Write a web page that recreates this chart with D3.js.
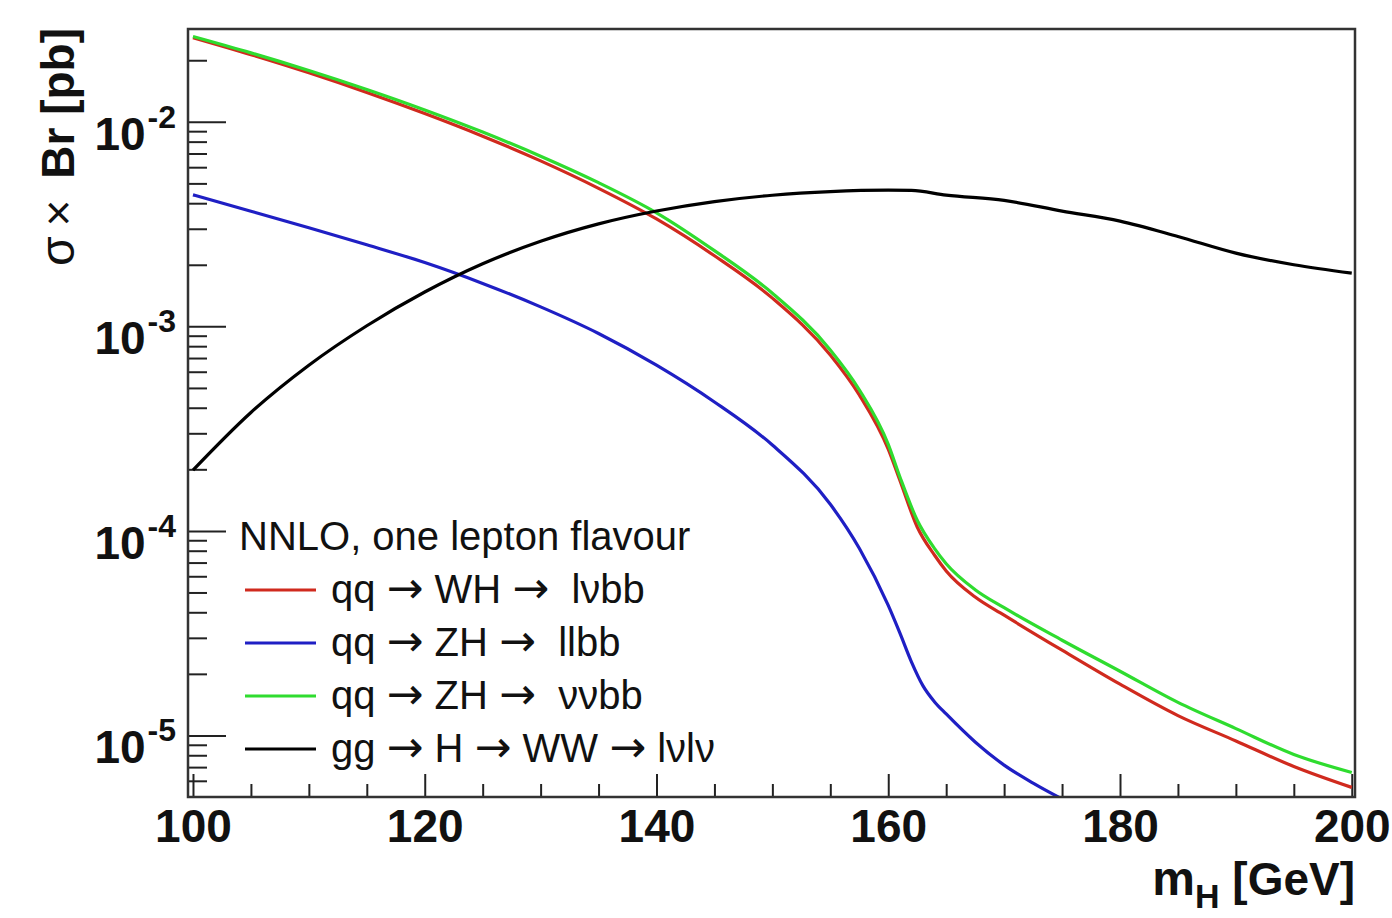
<!DOCTYPE html>
<html><head><meta charset="utf-8">
<script src="https://cdn.jsdelivr.net/npm/d3@7"></script>
<style>
body{margin:0;background:#fff;}
svg{display:block;}
text{font-family:"Liberation Sans",Arial,Helvetica,sans-serif;fill:#111;}
.arr{font-family:"DejaVu Sans",sans-serif;}
</style></head><body>
<svg id="chart" width="1392" height="918"></svg>
<script>
// ---- data ----
const massQQ = [100,105,110,115,120,125,130,135,140,145,150,155,157.5,160,161,162.5,164,165,167.5,170,175,180,185,190,195,200];
const whLvbb = [0.0258,0.02131,0.01737,0.01392,0.01098,0.00851,0.00644,0.00473,0.00335,0.002213,0.001374,7.24e-4,4.62e-4,2.51e-4,1.77e-4,1.045e-4,7.6e-5,6.37e-5,4.75e-5,3.87e-5,2.61e-5,1.78e-5,1.25e-5,9.4e-6,7.05e-6,5.57e-6];
const zhVvbb = [0.02612,0.02173,0.01782,0.01439,0.01143,0.00891,0.00679,0.00504,0.00359,0.002344,0.001452,7.67e-4,4.90e-4,2.65e-4,1.84e-4,1.127e-4,8.19e-5,6.91e-5,5.16e-5,4.21e-5,2.92e-5,2.06e-5,1.45e-5,1.08e-5,8.07e-6,6.59e-6];
const massZHll = [100,105,110,115,120,125,130,135,140,145,150,155,157.5,160,161,162,163,164,165,167.5,170,172.5,175];
const zhLlbb = [4.395e-3,3.656e-3,3.034e-3,2.506e-3,2.051e-3,1.622e-3,1.245e-3,9.23e-4,6.46e-4,4.27e-4,2.63e-4,1.349e-4,8.22e-5,4.32e-5,3.17e-5,2.29e-5,1.746e-5,1.458e-5,1.273e-5,9.29e-6,7.16e-6,5.85e-6,4.89e-6];
const massGG = [100,105,110,115,120,125,130,135,140,145,150,155,160,162,165,170,175,180,185,190,195,200];
const ggWW = [1.982e-4,3.793e-4,6.457e-4,1.007e-3,1.472e-3,2.023e-3,2.606e-3,3.170e-3,3.664e-3,4.074e-3,4.375e-3,4.560e-3,4.634e-3,4.62e-3,4.38e-3,4.13e-3,3.66e-3,3.27e-3,2.75e-3,2.28e-3,2.00e-3,1.82e-3];

const xMajorTicks = [100,120,140,160,180,200];
const yDecades = [1e-2,1e-3,1e-4,1e-5];
const yExponents = ["-2","-3","-4","-5"];
const legendTitle = "NNLO, one lepton flavour";
// each label split into pieces; "\u2192" pieces are drawn as arrows
const legendLabels = [
  ["qq ","\u2192"," WH ","\u2192","  l\u03bdbb"],
  ["qq ","\u2192"," ZH ","\u2192","  llbb"],
  ["qq ","\u2192"," ZH ","\u2192","  \u03bd\u03bdbb"],
  ["gg ","\u2192"," H ","\u2192"," WW ","\u2192"," l\u03bdl\u03bd"]
];
const seriesColors = ["#d02a1e","#1f1fc4","#2fdc2f","#000000"];

// ---- layout ----
const L=188, R=1355, T=29, B=797;
const svg = d3.select("#chart");
const x = d3.scaleLinear().domain([99.57,200.28]).range([L,R]);
const y = d3.scaleLog().domain([5e-6,0.02843]).range([B,T]);

svg.append("defs").append("clipPath").attr("id","clip")
  .append("rect").attr("x",L).attr("y",T).attr("width",R-L).attr("height",B-T);

// axes ticks
const xMinor = d3.range(100,201,5).filter(v=>!xMajorTicks.includes(v));
const gx = svg.append("g").attr("transform",`translate(0,${B})`);
gx.call(d3.axisBottom(x).tickValues(xMinor).tickSize(-13).tickFormat(""));
const gx2 = svg.append("g").attr("transform",`translate(0,${B})`);
gx2.call(d3.axisBottom(x).tickValues(xMajorTicks).tickSize(-23).tickPadding(12).tickFormat(d3.format("d")));
gx.select(".domain").remove(); gx2.select(".domain").remove();
gx.selectAll("line").attr("stroke","#222").attr("stroke-width",2);
gx2.selectAll("line").attr("stroke","#222").attr("stroke-width",2);
gx2.selectAll("text").attr("font-size",46).attr("font-weight","bold").attr("fill","#111");

const yMinor = [];
for (let e=-6;e<=-2;e++) for (let m=2;m<=9;m++){ const v=m*Math.pow(10,e); if(v>=5e-6 && v<=0.02843) yMinor.push(v); }
const gy = svg.append("g").attr("transform",`translate(${L},0)`);
gy.call(d3.axisLeft(y).tickValues(yMinor).tickSize(-19).tickFormat(""));
const gy2 = svg.append("g").attr("transform",`translate(${L},0)`);
gy2.call(d3.axisLeft(y).tickValues(yDecades).tickSize(-38).tickFormat(""));
gy.select(".domain").remove(); gy2.select(".domain").remove();
gy.selectAll("line").attr("stroke","#222").attr("stroke-width",2);
gy2.selectAll("line").attr("stroke","#222").attr("stroke-width",2);

// y labels 10^n
yDecades.forEach((v,i)=>{
  const t = svg.append("text").attr("x",176).attr("y",y(v)+28).attr("text-anchor","end").attr("font-weight","bold");
  t.append("tspan").attr("font-size",46).text("10");
  t.append("tspan").attr("font-size",32).attr("dx",2).attr("dy",-22).text(yExponents[i]);
});

// curves
const lineSmooth = d3.line().x(d=>x(d[0])).y(d=>y(d[1])).curve(d3.curveMonotoneX);
const plot = svg.append("g").attr("clip-path","url(#clip)");
const series = [
  {m:massQQ, v:whLvbb, c:seriesColors[0]},
  {m:massZHll, v:zhLlbb, c:seriesColors[1]},
  {m:massQQ, v:zhVvbb, c:seriesColors[2]},
  {m:massGG, v:ggWW, c:seriesColors[3]}
];
series.forEach(s=>{
  plot.append("path").datum(s.m.map((mm,i)=>[mm,s.v[i]]))
    .attr("d",lineSmooth).attr("fill","none").attr("stroke",s.c).attr("stroke-width",3.2)
    .attr("stroke-linejoin","round");
});

// frame
svg.append("rect").attr("x",L).attr("y",T).attr("width",R-L).attr("height",B-T)
  .attr("fill","none").attr("stroke","#333").attr("stroke-width",2.5);

// legend
const leg = svg.append("g");
leg.append("text").attr("x",239).attr("y",550).attr("font-size",40).text(legendTitle);
legendLabels.forEach((parts,i)=>{
  const yy = 590 + i*53;
  leg.append("line").attr("x1",245).attr("x2",316).attr("y1",yy).attr("y2",yy)
    .attr("stroke",seriesColors[i]).attr("stroke-width",3.2);
  const t = leg.append("text").attr("x",331).attr("y",yy+13).attr("font-size",40)
    .attr("xml:space","preserve").style("white-space","pre");
  parts.forEach(p=>{
    const sp = t.append("tspan").text(p);
    if (p==="\u2192") sp.attr("class","arr").attr("font-size",44);
  });
});

// axis titles
const xt = svg.append("text").attr("x",1355).attr("y",895).attr("text-anchor","end").attr("font-weight","bold").attr("font-size",46);
xt.append("tspan").attr("font-size",48).text("m");
xt.append("tspan").attr("font-size",34).attr("dy",13).text("H");
xt.append("tspan").attr("dy",-13).text(" [GeV]");

const yt = svg.append("text").attr("transform","translate(74,28) rotate(-90)").attr("text-anchor","end").attr("font-size",46)
  .attr("xml:space","preserve").style("white-space","pre");
yt.append("tspan").attr("font-size",48).text("\u03c3");
yt.append("tspan").attr("dx",10).text("\u00d7");
yt.append("tspan").attr("dx",8).attr("font-weight","bold").text(" Br [pb]");
</script>
</body></html>
